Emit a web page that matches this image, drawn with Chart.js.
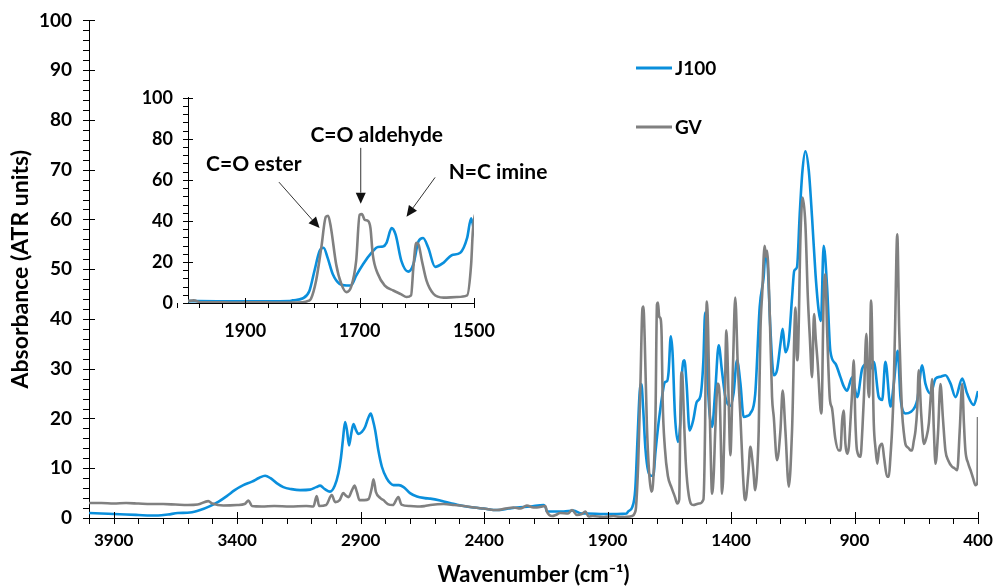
<!DOCTYPE html>
<html>
<head>
<meta charset="utf-8">
<script src="https://cdn.jsdelivr.net/npm/chart.js@4.4.0/dist/chart.umd.min.js"></script>
<style>
    html, body { margin: 0; padding: 0; background: #fff; }
    #wrap { position: relative; width: 995px; height: 588px; }
    #main { position: absolute; left: 0; top: 0; }
    #inset { position: absolute; left: 120px; top: 80px; }
</style>
</head>
<body>
<div id="wrap">
    <canvas id="main" width="995" height="588"></canvas>
    <canvas id="inset" width="450" height="270"></canvas>
</div>
<script>
const seriesNames = ['J100', 'GV'];

const j100Wavenumber = [4000, 3950, 3900, 3850, 3800, 3750, 3720, 3680, 3640, 3591, 3550, 3510, 3475, 3442, 3410, 3375, 3340, 3310, 3287, 3265, 3240, 3213, 3180, 3145, 3105, 3080, 3064, 3045, 3024, 3005, 2990, 2980, 2972, 2963, 2955, 2947, 2938, 2929, 2920, 2909, 2895, 2882, 2870, 2859, 2850, 2841, 2828, 2814, 2795, 2780, 2767, 2745, 2726, 2700, 2672, 2640, 2618, 2578, 2564, 2520, 2483, 2440, 2402, 2348, 2300, 2267, 2213, 2159, 2150, 2146, 2110, 2078, 2038, 2005, 1983, 1916, 1862, 1823, 1817, 1800, 1788, 1779, 1770, 1763, 1756, 1747, 1735, 1723, 1715, 1706, 1694, 1679, 1668, 1659, 1653, 1644, 1637, 1627, 1615, 1606, 1597, 1589, 1580, 1568, 1553, 1539, 1524, 1512, 1505, 1500, 1495, 1487, 1477, 1464, 1450, 1437, 1423, 1403, 1390, 1376, 1362, 1349, 1335, 1322, 1302, 1284, 1268, 1261, 1252, 1241, 1227, 1214, 1200, 1191, 1180, 1166, 1153, 1144, 1133, 1122, 1111, 1099, 1085, 1072, 1058, 1045, 1036, 1025, 1011, 998, 977, 957, 944, 930, 910, 889, 869, 849, 835, 822, 802, 788, 775, 754, 741, 725, 714, 694, 673, 646, 626, 613, 592, 572, 552, 532, 511, 491, 464, 444, 417, 400];
const j100Absorbance = [1.0, 0.9, 0.8, 0.7, 0.6, 0.5, 0.5, 0.7, 1.0, 1.1, 1.6, 2.4, 3.3, 4.4, 5.6, 6.6, 7.3, 8.1, 8.5, 8.0, 7.0, 6.2, 5.8, 5.6, 5.7, 6.2, 6.5, 5.8, 5.3, 6.5, 9.0, 12.0, 15.6, 19.3, 17.5, 14.6, 17.0, 18.9, 17.8, 16.9, 17.3, 18.3, 20.0, 21.0, 19.6, 17.6, 13.5, 10.3, 8.0, 7.0, 6.6, 6.6, 6.2, 5.0, 4.3, 4.0, 3.9, 3.5, 3.3, 2.8, 2.4, 2.1, 1.9, 1.6, 1.9, 2.1, 2.3, 2.6, 2.0, 1.3, 1.3, 1.3, 1.5, 0.9, 0.9, 0.8, 0.8, 0.9, 1.3, 2.2, 5.7, 15.6, 25.3, 26.9, 22.1, 14.1, 9.3, 8.5, 8.5, 13.3, 18.9, 24.5, 27.3, 27.5, 29.3, 36.5, 33.3, 20.5, 15.3, 18.9, 30.1, 31.7, 26.9, 17.6, 19.7, 23.3, 24.5, 31.7, 41.3, 35.0, 28.0, 21.0, 18.3, 25.6, 34.7, 29.6, 24.3, 22.5, 25.0, 31.7, 27.0, 20.3, 20.5, 21.0, 25.0, 42.4, 48.4, 53.0, 51.0, 38.3, 28.7, 29.7, 35.0, 38.0, 33.3, 35.7, 44.3, 49.7, 50.4, 61.0, 69.7, 73.7, 69.7, 60.4, 49.0, 41.6, 39.6, 54.7, 46.3, 33.6, 31.0, 28.3, 26.5, 25.6, 28.3, 24.3, 30.0, 31.0, 30.0, 31.4, 24.3, 23.7, 31.4, 22.4, 27.0, 33.6, 24.3, 21.0, 21.3, 23.7, 30.7, 27.0, 25.0, 28.0, 28.4, 28.7, 27.0, 24.3, 28.0, 25.0, 22.7, 25.5];

const gvWavenumber = [4000, 3950, 3900, 3850, 3800, 3750, 3700, 3650, 3600, 3560, 3517, 3500, 3456, 3400, 3370, 3354, 3340, 3300, 3250, 3186, 3120, 3091, 3078, 3068, 3040, 3017, 3003, 2985, 2970, 2960, 2949, 2935, 2925, 2915, 2905, 2885, 2868, 2855, 2848, 2838, 2820, 2808, 2790, 2770, 2747, 2735, 2700, 2660, 2640, 2618, 2564, 2520, 2483, 2440, 2402, 2348, 2314, 2281, 2254, 2227, 2200, 2186, 2152, 2146, 2125, 2110, 2092, 2060, 2044, 2024, 2005, 1990, 1977, 1960, 1916, 1876, 1848, 1800, 1790, 1785, 1776, 1767, 1759, 1755, 1750, 1741, 1732, 1723, 1715, 1706, 1700, 1696, 1691, 1685, 1681, 1677, 1668, 1656, 1641, 1627, 1618, 1610, 1606, 1601, 1597, 1591, 1583, 1571, 1553, 1530, 1512, 1505, 1502, 1498, 1493, 1488, 1480, 1477, 1470, 1464, 1454, 1446, 1440, 1437, 1432, 1427, 1419, 1410, 1403, 1392, 1383, 1373, 1362, 1353, 1346, 1342, 1330, 1322, 1311, 1302, 1295, 1288, 1281, 1274, 1264, 1258, 1254, 1243, 1234, 1227, 1214, 1200, 1191, 1180, 1166, 1153, 1139, 1133, 1129, 1119, 1110, 1099, 1089, 1081, 1072, 1064, 1057, 1049, 1038, 1034, 1025, 1018, 1011, 1000, 991, 978, 964, 957, 950, 944, 937, 930, 923, 917, 910, 903, 897, 890, 876, 868, 862, 852, 845, 841, 833, 822, 815, 808, 800, 788, 780, 768, 761, 755, 748, 742, 736, 727, 719, 713, 707, 700, 694, 687, 680, 673, 667, 660, 653, 646, 640, 630, 619, 610, 599, 592, 586, 579, 572, 562, 552, 542, 532, 520, 505, 495, 484, 474, 464, 457, 451, 440, 430, 420, 410, 402, 400];
const gvAbsorbance = [3.0, 3.0, 2.9, 3.0, 2.9, 2.8, 2.8, 2.7, 2.6, 2.7, 3.4, 2.9, 2.5, 2.6, 2.8, 3.5, 2.4, 2.3, 2.4, 2.3, 2.4, 2.3, 4.4, 2.4, 2.6, 4.6, 3.2, 3.6, 5.0, 4.5, 4.2, 5.6, 6.5, 5.2, 3.6, 3.6, 3.8, 6.0, 7.8, 5.2, 4.0, 3.6, 2.8, 2.6, 4.2, 2.7, 2.4, 2.3, 2.4, 2.6, 2.8, 2.6, 2.4, 2.1, 1.9, 1.6, 1.9, 2.1, 1.9, 2.5, 2.1, 2.1, 2.4, 1.3, 0.4, 0.6, 1.0, 0.9, 1.6, 0.6, 0.8, 1.3, 0.3, 0.4, 0.2, 0.4, 0.2, 0.4, 1.0, 2.1, 11.0, 26.9, 42.0, 42.5, 36.5, 18.9, 9.3, 5.3, 7.7, 20.5, 42.9, 43.3, 40.5, 40.0, 36.5, 23.7, 14.1, 8.5, 6.1, 4.2, 2.9, 3.7, 17.3, 29.3, 28.5, 20.5, 10.9, 4.5, 2.6, 2.9, 3.7, 18.9, 35.0, 43.5, 38.0, 25.0, 8.0, 4.9, 9.0, 17.6, 27.0, 24.3, 12.0, 4.9, 8.0, 17.6, 37.7, 24.3, 12.6, 31.0, 44.3, 31.0, 20.3, 10.0, 4.3, 3.6, 9.0, 14.3, 10.3, 5.6, 9.0, 17.6, 37.7, 45.0, 54.7, 52.5, 53.7, 40.4, 24.3, 20.3, 11.6, 17.6, 25.6, 17.6, 6.3, 17.6, 42.3, 31.7, 33.0, 56.4, 64.4, 59.0, 44.3, 36.3, 28.3, 41.0, 36.0, 31.0, 22.0, 21.0, 44.3, 49.0, 37.7, 24.0, 22.0, 16.0, 13.6, 13.6, 19.6, 21.6, 15.0, 12.9, 14.3, 19.0, 25.0, 31.7, 20.0, 13.6, 12.3, 18.0, 24.3, 37.0, 26.0, 24.3, 43.7, 19.0, 14.0, 10.9, 14.0, 14.9, 12.0, 8.3, 8.3, 12.0, 17.6, 25.0, 37.7, 57.0, 37.7, 28.0, 20.9, 17.0, 14.9, 14.3, 14.0, 13.6, 13.6, 15.5, 17.6, 22.0, 29.7, 20.9, 14.9, 16.0, 19.0, 24.0, 27.9, 18.0, 10.9, 17.0, 26.9, 20.0, 13.6, 11.5, 10.3, 10.0, 9.6, 17.6, 26.9, 19.0, 13.6, 11.0, 9.6, 8.0, 6.6, 7.2, 20.3];

// Ejes
const mainXTicks = [400, 900, 1400, 1900, 2400, 2900, 3400, 3900];
const insetXTicks = [1500, 1700, 1900];

// Anotaciones del recuadro (texto, centro del texto y flecha en unidades de los ejes)
const noteText = ['C=O ester', 'C=O aldehyde', 'N=C imine'];
const noteAt = [[1885, 67.5], [1670, 82.0], [1458, 63.6]];
const arrowFrom = [[1841, 58.9], [1698, 75.6], [1568, 61.2]];
const arrowTo = [[1770, 36.5], [1698, 48.4], [1618, 42]];

const colorJ100 = '#0a8fdc';
const colorGV = '#808080';
const FONT = 'Lato, "Liberation Sans", sans-serif';

function toPoints(xs, ys) {
    return xs.map((x, i) => ({ x: x, y: ys[i] }));
}

function buildDatasets(width) {
    return [
        {
            label: seriesNames[0],
            data: toPoints(j100Wavenumber, j100Absorbance),
            borderColor: colorJ100,
            borderWidth: width,
            pointRadius: 0,
            cubicInterpolationMode: 'monotone',
            order: 2
        },
        {
            label: seriesNames[1],
            data: toPoints(gvWavenumber, gvAbsorbance),
            borderColor: colorGV,
            borderWidth: width,
            pointRadius: 0,
            cubicInterpolationMode: 'monotone',
            order: 1
        }
    ];
}

// Marcas de los ejes: las principales cruzan el eje, las secundarias quedan por fuera
const axisTicks = {
    id: 'axisTicks',
    afterDraw(chart, args, o) {
        const { ctx, chartArea: a, scales: { x, y } } = chart;
        ctx.save();
        ctx.strokeStyle = '#000';
        ctx.lineWidth = 1;
        ctx.beginPath();
        const nx = Math.round((x.max - o.xStart) / o.xMinor);
        for (let i = 0; i <= nx; i++) {
            const v = o.xStart + i * o.xMinor;
            const px = Math.round(x.getPixelForValue(v)) + 0.5;
            const major = (i * o.xMinor) % o.xMajor === 0;
            ctx.moveTo(px, a.bottom + o.len);
            ctx.lineTo(px, major ? a.bottom - o.len : a.bottom);
        }
        const ny = Math.round(y.max / o.yMinor);
        for (let i = 0; i <= ny; i++) {
            const v = i * o.yMinor;
            const py = Math.round(y.getPixelForValue(v)) + 0.5;
            const major = v % o.yMajor === 0;
            ctx.moveTo(a.left - o.len, py);
            ctx.lineTo(major ? a.left + o.len : a.left, py);
        }
        ctx.stroke();
        ctx.restore();
    }
};

// Leyenda a la derecha, con mucho espacio entre entradas
const sideLegend = {
    id: 'sideLegend',
    afterDraw(chart, args, o) {
        const ctx = chart.ctx;
        ctx.save();
        ctx.font = 'bold 19px ' + FONT;
        ctx.textBaseline = 'middle';
        ctx.fillStyle = '#000';
        chart.data.datasets.forEach((ds, i) => {
            const yy = o.y + i * o.gap;
            ctx.strokeStyle = ds.borderColor;
            ctx.lineWidth = 3;
            ctx.beginPath();
            ctx.moveTo(o.x, yy);
            ctx.lineTo(o.x + o.lineLen, yy);
            ctx.stroke();
            ctx.fillText(ds.label, o.x + o.lineLen + 3, yy + 1);
        });
        ctx.restore();
    }
};

// Textos y flechas del recuadro
const insetNotes = {
    id: 'insetNotes',
    afterDraw(chart) {
        const { ctx, scales: { x, y } } = chart;
        ctx.save();
        ctx.font = 'bold 21px ' + FONT;
        ctx.textAlign = 'center';
        ctx.textBaseline = 'middle';
        ctx.fillStyle = '#000';
        noteText.forEach((t, i) => {
            ctx.fillText(t, x.getPixelForValue(noteAt[i][0]), y.getPixelForValue(noteAt[i][1]));
        });
        ctx.strokeStyle = '#333';
        ctx.fillStyle = '#111';
        ctx.lineWidth = 1;
        arrowFrom.forEach((f, i) => {
            const x0 = x.getPixelForValue(f[0]), y0 = y.getPixelForValue(f[1]);
            const x1 = x.getPixelForValue(arrowTo[i][0]), y1 = y.getPixelForValue(arrowTo[i][1]);
            const ang = Math.atan2(y1 - y0, x1 - x0);
            const head = 11, half = 5;
            const bx = x1 - head * Math.cos(ang), by = y1 - head * Math.sin(ang);
            ctx.beginPath();
            ctx.moveTo(x0, y0);
            ctx.lineTo(bx, by);
            ctx.stroke();
            ctx.beginPath();
            ctx.moveTo(x1, y1);
            ctx.lineTo(bx + half * Math.sin(ang), by - half * Math.cos(ang));
            ctx.lineTo(bx - half * Math.sin(ang), by + half * Math.cos(ang));
            ctx.closePath();
            ctx.fill();
        });
        ctx.restore();
    }
};

new Chart(document.getElementById('main'), {
    type: 'line',
    data: { datasets: buildDatasets(2.6) },
    options: {
        responsive: false,
        animation: false,
        devicePixelRatio: 1,
        layout: { padding: { left: 0, right: 17, top: 11, bottom: 0 } },
        plugins: {
            legend: { display: false },
            tooltip: { enabled: false },
            axisTicks: { xStart: 400, xMinor: 100, xMajor: 500, yMinor: 2, yMajor: 10, len: 6 },
            sideLegend: { x: 636, y: 68, gap: 59, lineLen: 36 }
        },
        scales: {
            x: {
                type: 'linear',
                reverse: true,
                min: 400,
                max: 4000,
                afterBuildTicks: s => { s.ticks = mainXTicks.map(v => ({ value: v })); },
                afterFit: s => { s.height = 70; },
                grid: { display: false },
                border: { color: '#000', width: 1 },
                ticks: {
                    color: '#000',
                    padding: 4,
                    maxRotation: 0,
                    font: { family: FONT, size: 17, weight: 'bold' },
                    callback: v => String(v)
                },
                title: {
                    display: true,
                    text: 'Wavenumber (cm⁻¹)',
                    color: '#000',
                    font: { family: FONT, size: 22, weight: 'bold' },
                    padding: { top: 0, bottom: 0 }
                }
            },
            y: {
                min: 0,
                max: 100,
                afterFit: s => { s.width = 89; },
                grid: { display: false },
                border: { color: '#000', width: 1 },
                ticks: {
                    stepSize: 10,
                    color: '#000',
                    padding: 9,
                    font: { family: FONT, size: 19, weight: 'bold' }
                },
                title: {
                    display: true,
                    text: 'Absorbance (ATR units)',
                    color: '#000',
                    font: { family: FONT, size: 23, weight: 'bold' },
                    padding: { top: 7, bottom: 0 }
                }
            }
        }
    },
    plugins: [axisTicks, sideLegend]
});

new Chart(document.getElementById('inset'), {
    type: 'line',
    data: { datasets: buildDatasets(2.6) },
    options: {
        responsive: false,
        animation: false,
        devicePixelRatio: 1,
        layout: { padding: { left: 0, right: 96, top: 3, bottom: 0 } },
        plugins: {
            legend: { display: false },
            tooltip: { enabled: false },
            axisTicks: { xStart: 1500, xMinor: 40, xMajor: 200, yMinor: 4, yMajor: 20, len: 5 }
        },
        scales: {
            x: {
                type: 'linear',
                reverse: true,
                min: 1500,
                max: 2000,
                afterBuildTicks: s => { s.ticks = insetXTicks.map(v => ({ value: v })); },
                afterFit: s => { s.height = 47; },
                grid: { display: false },
                border: { color: '#000', width: 1 },
                ticks: {
                    color: '#000',
                    padding: 9,
                    maxRotation: 0,
                    font: { family: FONT, size: 18, weight: 'bold' },
                    callback: v => String(v)
                }
            },
            y: {
                min: 0,
                max: 100,
                afterFit: s => { s.width = 68; },
                grid: { display: false },
                border: { color: '#000', width: 1 },
                ticks: {
                    stepSize: 20,
                    color: '#000',
                    padding: 7,
                    font: { family: FONT, size: 18, weight: 'bold' }
                }
            }
        }
    },
    plugins: [axisTicks, insetNotes]
});
</script>
</body>
</html>
